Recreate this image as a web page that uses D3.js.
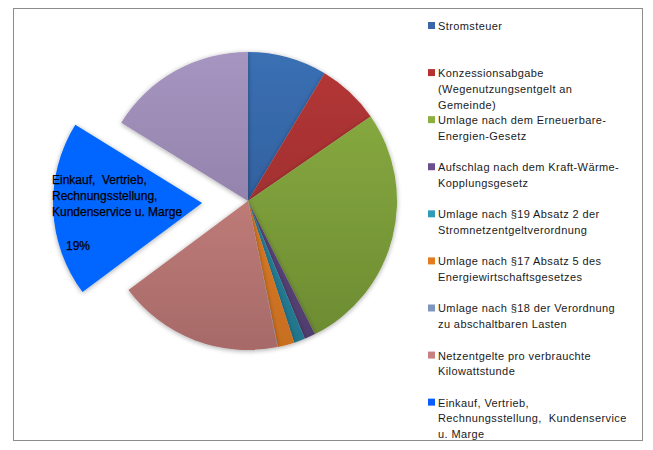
<!DOCTYPE html>
<html>
<head>
<meta charset="utf-8">
<script src="https://cdn.jsdelivr.net/npm/d3@7"></script>
<style>
  body { margin: 0; background: #fff; }
  svg { font-family: "Liberation Sans", Arial, sans-serif; }
  svg text { white-space: pre; }
</style>
</head>
<body>
<div id="chart"></div>
<script>
const svgWidth = 653
const svgHeight = 450

// slice names, clockwise from 12 o'clock
const categories = [
  "Stromsteuer",
  "Konzessionsabgabe (Wegenutzungsentgelt an Gemeinde)",
  "Umlage nach dem Erneuerbare-Energien-Gesetz",
  "Aufschlag nach dem Kraft-Wärme-Kopplungsgesetz",
  "Umlage nach §19 Absatz 2 der Stromnetzentgeltverordnung",
  "Umlage nach §17 Absatz 5 des Energiewirtschaftsgesetzes",
  "Umlage nach §18 der Verordnung zu abschaltbaren Lasten",
  "Netzentgelte pro verbrauchte Kilowattstunde",
  "Einkauf, Vertrieb, Rechnungsstellung, Kundenservice u. Marge",
  "Mehrwertsteuer"
]
// shares in percent
const values = [8.6, 6.8, 27.2, 1.2, 1.2, 1.8, 0.05, 18.0, 19.0, 16.2]

// legend rows (the last slice has no legend entry)
const legendLines = [
  ["Stromsteuer"],
  ["Konzessionsabgabe", "(Wegenutzungsentgelt an", "Gemeinde)"],
  ["Umlage nach dem Erneuerbare-", "Energien-Gesetz"],
  ["Aufschlag nach dem Kraft-Wärme-", "Kopplungsgesetz"],
  ["Umlage nach §19 Absatz 2 der", "Stromnetzentgeltverordnung"],
  ["Umlage nach §17 Absatz 5 des", "Energiewirtschaftsgesetzes"],
  ["Umlage nach §18 der Verordnung", "zu abschaltbaren Lasten"],
  ["Netzentgelte pro verbrauchte", "Kilowattstunde"],
  ["Einkauf, Vertrieb,", "Rechnungsstellung,  Kundenservice", "u. Marge"]
]
const sliceLabel = ["Einkauf,  Vertrieb,", "Rechnungsstellung,", "Kundenservice u. Marge", "", "19%"]
const explodedIndex = 8

// top / bottom gradient colours per slice
const colorTop = ["#3a70b4", "#b53636", "#8db043", "#634d88", "#2b8fab", "#e8832a", "#7f97c0", "#d68c88", "#0066ff", "#a695c0"]
const colorBottom = ["#2a5189", "#902b2b", "#6b8a31", "#4f3d6c", "#22748b", "#c86e1f", "#6a80a6", "#a66a68", "#0066ff", "#827198"]
const legendColors = ["#3a67a8", "#b63232", "#8bb040", "#6a4f8f", "#2f9db9", "#e37b20", "#7f97c0", "#c88181", "#0a5cff"]

let svg = d3.select("#chart")
  .append("svg")
  .attr("width", svgWidth)
  .attr("height", svgHeight)

// chart frame
svg.append("rect")
  .attr("x", 13.5)
  .attr("y", 8.5)
  .attr("width", 629)
  .attr("height", 432)
  .attr("fill", "#fff")
  .attr("stroke", "#8c8c8c")
  .attr("stroke-width", 1)

let defs = svg.append("defs")
let cx = 248, cy = 201, radius = 149, explode = 46

colorTop.forEach((c, i) => {
  let g = defs.append("linearGradient")
    .attr("id", "grad" + i)
    .attr("gradientUnits", "userSpaceOnUse")
    .attr("x1", 0).attr("y1", -radius)
    .attr("x2", 0).attr("y2", radius)
  g.append("stop").attr("offset", "0%").attr("stop-color", c)
  g.append("stop").attr("offset", "100%").attr("stop-color", colorBottom[i])
})

let shadow = defs.append("filter").attr("id", "shadow")
  .attr("x", "-20%").attr("y", "-20%").attr("width", "140%").attr("height", "140%")
shadow.append("feGaussianBlur").attr("in", "SourceAlpha").attr("stdDeviation", 2.5)
shadow.append("feOffset").attr("dx", 0).attr("dy", 1).attr("result", "blur")
shadow.append("feComponentTransfer").append("feFuncA").attr("type", "linear").attr("slope", 0.35)
let merge = shadow.append("feMerge")
merge.append("feMergeNode")
merge.append("feMergeNode").attr("in", "SourceGraphic")

let pie = d3.pie().sort(null).value(d => d)
let arcs = pie(values)
let arc = d3.arc().innerRadius(0).outerRadius(radius)

let pieGroup = svg.append("g")
  .attr("transform", `translate(${cx}, ${cy})`)

pieGroup.selectAll("path.slice")
  .data(arcs)
  .enter()
  .append("path")
  .classed("slice", true)
  .attr("transform", (d, i) => {
    if (i !== explodedIndex) return null
    let mid = (d.startAngle + d.endAngle) / 2
    return `translate(${Math.sin(mid) * explode}, ${-Math.cos(mid) * explode})`
  })
  .attr("d", arc)
  .attr("fill", (d, i) => `url(#grad${i})`)
  .attr("filter", "url(#shadow)")

// label inside the exploded slice
let labelGroup = svg.append("g")
sliceLabel.forEach((t, i) => {
  labelGroup.append("text")
    .attr("x", i === 4 ? 66 : 52)
    .attr("y", 184 + i * 16.2 + (i === 4 ? 1 : 0))
    .attr("font-size", "12px")
    .attr("fill", "#000")
    .attr("stroke", "#000")
    .attr("stroke-width", 0.25)
    .text(t)
})

// legend
let legend = svg.append("g")
legendLines.forEach((lines, i) => {
  let y0 = 26 + i * 47.08
  legend.append("rect")
    .attr("x", 428)
    .attr("y", y0 - 4)
    .attr("width", 7)
    .attr("height", 7)
    .attr("fill", legendColors[i])
  lines.forEach((t, j) => {
    legend.append("text")
      .attr("x", 438)
      .attr("y", y0 + 4 + j * 15.8)
      .attr("font-size", "11px")
      .attr("letter-spacing", "0.4px")
      .attr("fill", "#1a1a1a")
      .text(t)
  })
})
</script>
</body>
</html>
